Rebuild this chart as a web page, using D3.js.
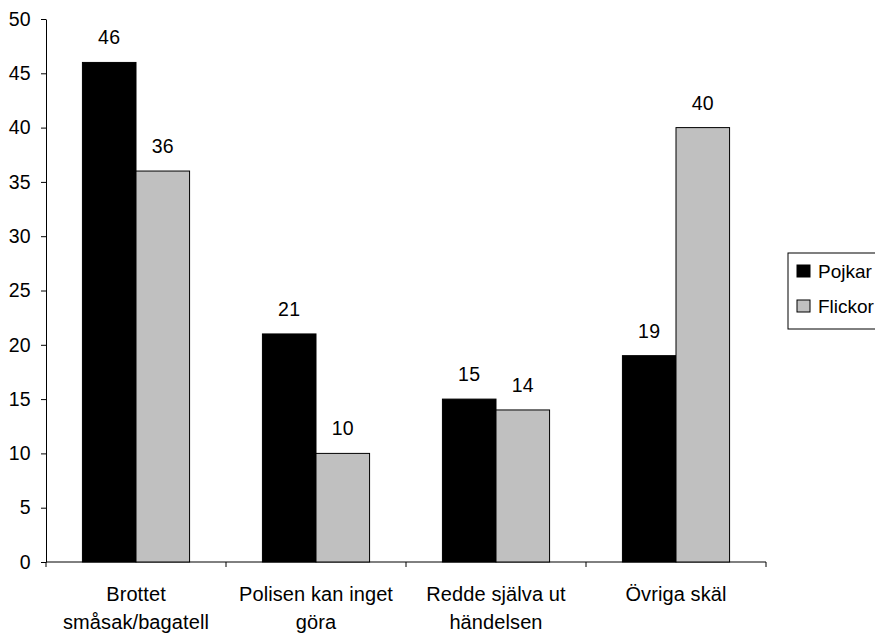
<!DOCTYPE html>
<html>
<head>
<meta charset="utf-8">
<script src="https://cdn.jsdelivr.net/npm/d3@7"></script>
<style>
  body { margin: 0; background: #fff; }
  text { font-family: "Liberation Sans", Arial, sans-serif; fill: #000; }
</style>
</head>
<body>
<div id="chart"></div>
<script>
// data
const categories = ['Brottet småsak/bagatell', 'Polisen kan inget göra', 'Redde själva ut händelsen', 'Övriga skäl'];
const categoryLines = [['Brottet', 'småsak/bagatell'], ['Polisen kan inget', 'göra'], ['Redde själva ut', 'händelsen'], ['Övriga skäl']];
const series = ['Pojkar', 'Flickor'];
const pojkar = [46, 21, 15, 19];
const flickor = [36, 10, 14, 40];
const yTicks = [0, 5, 10, 15, 20, 25, 30, 35, 40, 45, 50];
const colors = { Pojkar: '#000000', Flickor: '#c0c0c0' };

const width = 875, height = 633;
const plot = { left: 46, right: 766, top: 19, bottom: 562 };
const fontSize = '19.5px';

const rows = categories.map((c, i) => ({ cat: c, lines: categoryLines[i], Pojkar: pojkar[i], Flickor: flickor[i] }));

const svg = d3.select('#chart').append('svg')
    .attr('width', width)
    .attr('height', height);

const x = d3.scaleBand()
    .domain(categories)
    .range([plot.left, plot.right])
    .padding(0);

const xs = d3.scaleBand()
    .domain(series)
    .range([0, x.bandwidth()])
    .paddingInner(0)
    .paddingOuter(0.68);

const y = d3.scaleLinear()
    .domain([0, 50])
    .range([plot.bottom, plot.top]);

// y axis
const yAxis = svg.append('g')
    .attr('transform', `translate(${plot.left},0)`)
    .call(d3.axisLeft(y).tickValues(yTicks).tickSize(5).tickPadding(10).tickSizeOuter(0));
yAxis.select('.domain').attr('stroke', '#000');
yAxis.selectAll('.tick line').attr('stroke', '#000');
yAxis.selectAll('.tick text')
    .attr('font-size', fontSize)
    .attr('letter-spacing', '0.3px')
    .attr('font-family', '"Liberation Sans", Arial, sans-serif');

// x axis: ticks on the band edges
const edges = categories.map(c => x(c)).concat([plot.right]);
svg.append('line')
    .attr('x1', plot.left).attr('x2', plot.right)
    .attr('y1', y(0)).attr('y2', y(0))
    .attr('stroke', '#000');
svg.selectAll('.xtick')
    .data(edges)
    .join('line')
    .attr('class', 'xtick')
    .attr('x1', d => d).attr('x2', d => d)
    .attr('y1', y(0)).attr('y2', y(0) + 5)
    .attr('stroke', '#000');

// bars
const groups = svg.selectAll('.grp')
    .data(rows)
    .join('g')
    .attr('class', 'grp')
    .attr('transform', d => `translate(${x(d.cat)},0)`);

groups.selectAll('rect')
    .data(d => series.map(s => ({ s, v: d[s] })))
    .join('rect')
    .attr('x', d => xs(d.s))
    .attr('y', d => y(d.v))
    .attr('width', xs.bandwidth())
    .attr('height', d => y(0) - y(d.v))
    .attr('fill', d => colors[d.s])
    .attr('stroke', '#000')
    .attr('stroke-width', 1);

groups.selectAll('.val')
    .data(d => series.map(s => ({ s, v: d[s] })))
    .join('text')
    .attr('class', 'val')
    .attr('x', d => xs(d.s) + xs.bandwidth() / 2)
    .attr('y', d => y(d.v) - 18)
    .attr('text-anchor', 'middle')
    .attr('font-size', fontSize)
    .attr('letter-spacing', '0.3px')
    .text(d => d.v);

// category labels
const catLabels = svg.selectAll('.cat')
    .data(rows)
    .join('text')
    .attr('class', 'cat')
    .attr('text-anchor', 'middle')
    .attr('font-size', '20px')
    .attr('letter-spacing', '0.1px');
catLabels.selectAll('tspan')
    .data(d => d.lines.map(l => ({ l, cx: x(d.cat) + x.bandwidth() / 2 })))
    .join('tspan')
    .attr('x', d => d.cx)
    .attr('y', (d, i) => 601 + i * 28)
    .text(d => d.l);

// legend
const legend = svg.append('g').attr('transform', 'translate(788,253)');
legend.append('rect')
    .attr('width', 120).attr('height', 76)
    .attr('fill', '#fff').attr('stroke', '#000');
const li = legend.selectAll('.li')
    .data(series)
    .join('g')
    .attr('class', 'li')
    .attr('transform', (d, i) => `translate(9,${12 + i * 35})`);
li.append('rect')
    .attr('width', 13).attr('height', 12)
    .attr('fill', d => colors[d])
    .attr('stroke', '#000');
li.append('text')
    .attr('x', 21).attr('y', 13)
    .attr('font-size', '19px')
    .text(d => d);
</script>
</body>
</html>
